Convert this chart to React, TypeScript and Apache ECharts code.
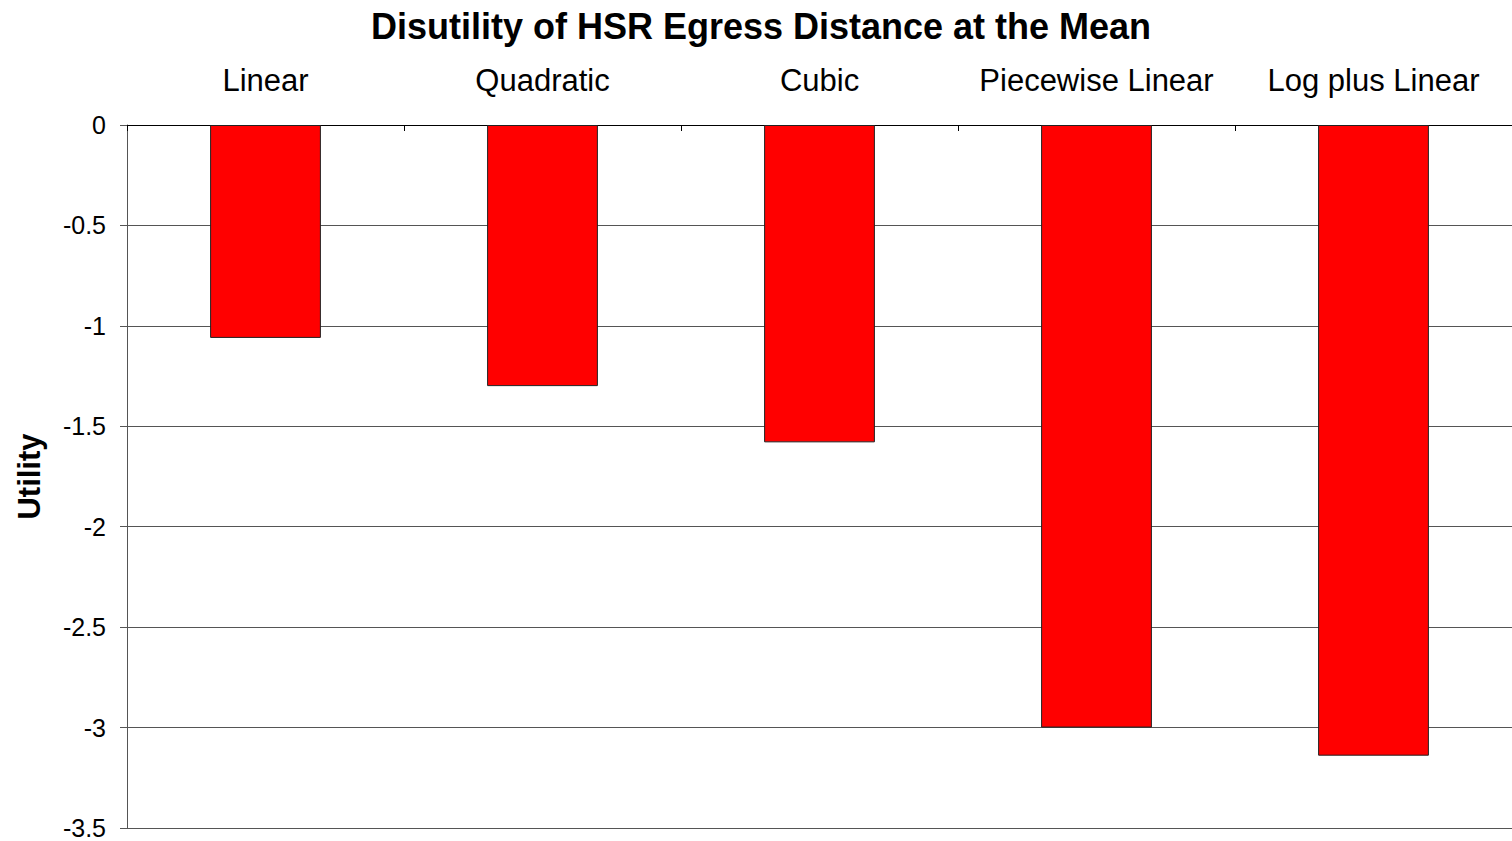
import React, { useEffect, useRef } from "react";
import * as echarts from "echarts";

const categories = ["Linear", "Quadratic", "Cubic", "Piecewise Linear", "Log plus Linear"];
const utilityValues = [-1.06, -1.3, -1.58, -3.0, -3.14];
const yTicks = { min: -3.5, max: 0, interval: 0.5 };

export default function App() {
  const ref = useRef<HTMLDivElement>(null);
  useEffect(() => {
    if (!ref.current) return;
    const chart = echarts.init(ref.current, undefined, { renderer: "svg" });
    chart.setOption({
      animation: false,
      backgroundColor: "#ffffff",
      title: {
        text: "Disutility of HSR Egress Distance at the Mean",
        left: 756,
        textAlign: "center",
        top: 3,
        textStyle: { fontFamily: "Liberation Sans", fontWeight: "bold", fontSize: 36, color: "#000" },
      },
      grid: { left: 127, right: -4, top: 125, bottom: 13, containLabel: false },
      xAxis: {
        type: "category",
        data: categories,
        position: "top",
        axisLine: { show: true, lineStyle: { color: "#000", width: 1 } },
        axisTick: { show: true, inside: true, length: 6, lineStyle: { color: "#000" } },
        axisLabel: {
          interval: 0,
          hideOverlap: false,
          fontFamily: "Liberation Sans",
          fontSize: 31,
          color: "#000",
          margin: 29,
        },
        splitLine: { show: false },
      },
      yAxis: {
        type: "value",
        min: yTicks.min,
        max: yTicks.max,
        interval: yTicks.interval,
        name: "Utility",
        nameLocation: "middle",
        nameRotate: 90,
        nameGap: 82,
        nameTextStyle: { fontFamily: "Liberation Sans", fontWeight: "bold", fontSize: 31, color: "#000" },
        axisLine: { show: true, lineStyle: { color: "#555", width: 1 } },
        axisTick: { show: true, inside: false, length: 7, lineStyle: { color: "#555" } },
        axisLabel: {
          fontFamily: "Liberation Sans",
          fontSize: 25,
          lineHeight: 20,
          color: "#000",
          margin: 21,
        },
        splitLine: { show: true, lineStyle: { color: "#555", width: 1 } },
      },
      series: [
        {
          type: "bar",
          data: utilityValues,
          barCategoryGap: "60%",
          itemStyle: { color: "#ff0000", borderColor: "#222", borderWidth: 1 },
        },
      ],
    });
    return () => chart.dispose();
  }, []);
  return (
    <div
      ref={ref}
      style={{ position: "fixed", left: 0, top: 0, width: 1512, height: 841, background: "#fff" }}
    />
  );
}
